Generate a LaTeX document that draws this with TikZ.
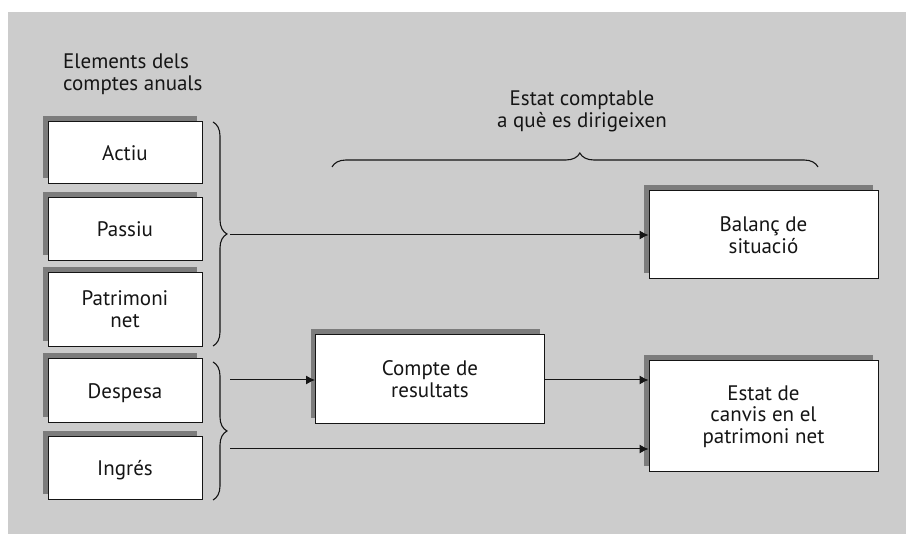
\documentclass[tikz,border=0pt]{standalone}
\usepackage{fontspec}
\setmainfont{PT Sans}
\usetikzlibrary{arrows.meta,shadows,decorations.pathreplacing}
\definecolor{bggray}{HTML}{CCCCCC}
\definecolor{shadowgray}{HTML}{7C7C7C}
\definecolor{inkgray}{HTML}{151515}
\newcommand{\diagfont}{\fontsize{21}{21.7}\selectfont}
\tikzset{
  elembox/.style={draw=inkgray, line width=1pt, fill=white, align=center,
    inner sep=0pt, font=\diagfont, text=inkgray,
    drop shadow={shadow xshift=-5pt, shadow yshift=5.5pt, fill=shadowgray, opacity=1}},
  oneline/.style={text height=15pt, text depth=0pt},
  caption/.style={font=\diagfont, inner sep=0pt, text=inkgray},
  link/.style={draw=inkgray, line width=1pt, -{Latex[length=9pt,width=9pt]}},
  bracedraw/.style={draw=inkgray, line width=1.1pt, decorate},
}
\begin{document}
\begin{tikzpicture}[x=1pt,y=-1pt]
  \useasboundingbox (0,0) rectangle (906,534);
  \fill[bggray] (8,12) rectangle (906,534);

  % headings
  \node[caption, align=left, anchor=west] (hleft) at (63,74.5) {Elements dels\\comptes anuals};
  \node[caption, align=center] (htop) at (582,111.5) {Estat comptable\\a què es dirigeixen};

  % account elements (left column)
  \node[elembox, oneline, minimum width=154pt, minimum height=62pt] (actiu)  at (125,153)   {Actiu};
  \node[elembox, oneline, minimum width=154pt, minimum height=63pt] (passiu) at (125,229.5) {Passiu};
  \node[elembox, minimum width=154pt, minimum height=74pt] (patri)  at (125,309.5) {Patrimoni\\net};
  \node[elembox, oneline, minimum width=154pt, minimum height=64pt] (desp)   at (125,391)   {Despesa};
  \node[elembox, oneline, minimum width=154pt, minimum height=63pt] (ingres) at (125,468.5) {Ingrés};

  % financial statements
  \node[elembox, minimum width=229pt, minimum height=89pt] (compte) at (430,379)   {Compte de\\resultats};
  \node[elembox, minimum width=229pt, minimum height=88pt] (balanc) at (763.5,235) {Balanç de\\situació};
  \node[elembox, minimum width=229pt, minimum height=111pt] (estat) at (763.5,416.5) {Estat de\\canvis en el\\patrimoni net};

  % braces
  \coordinate (b1top) at (213,122);
  \coordinate (b1bot) at (213,346);
  \coordinate (b2top) at (213,362);
  \coordinate (b2bot) at (213,500);
  \coordinate (b3l) at (332,167);
  \coordinate (b3r) at (818,167);
  \draw[bracedraw, decoration={brace, amplitude=14pt}] (b1top) -- (b1bot);
  \draw[bracedraw, decoration={brace, amplitude=14pt}] (b2top) -- (b2bot);
  \draw[bracedraw, decoration={brace, amplitude=14pt, aspect=0.51}] (b3l) -- (b3r);

  % connectors
  \coordinate (s1) at (230,235);
  \coordinate (s2) at (230,380);
  \coordinate (s3) at (230,449);
  \draw[link] (s1) -- (s1 -| balanc.west);
  \draw[link] (s2) -- (s2 -| compte.west);
  \draw[link] (compte.east |- s2) -- (s2 -| estat.west);
  \draw[link] (s3) -- (s3 -| estat.west);
\end{tikzpicture}
\end{document}
